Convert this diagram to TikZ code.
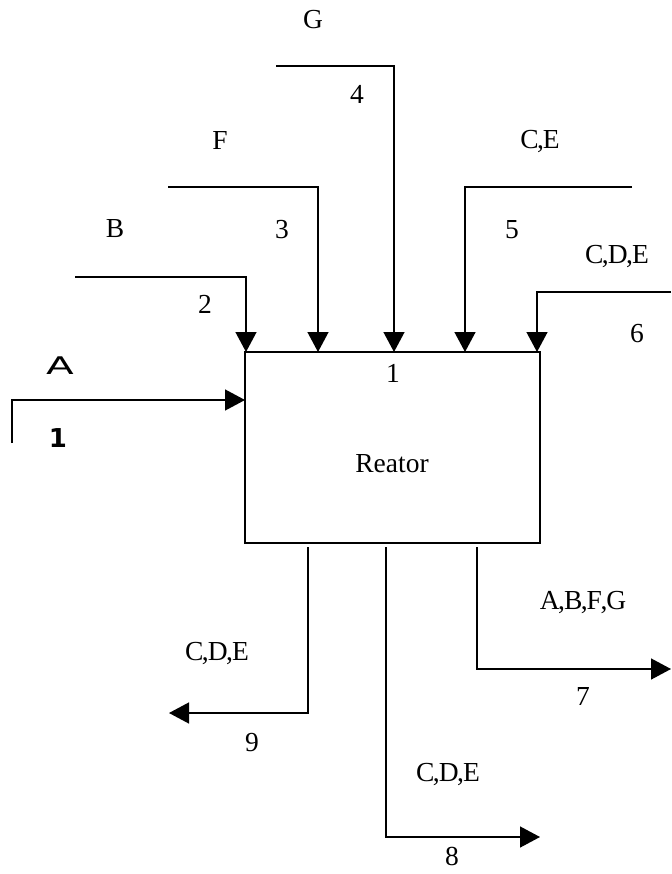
\documentclass[tikz,border=0pt]{standalone}
\usepackage{fontspec}
\setmainfont{Liberation Serif}
\newfontfamily\sansA{DejaVu Sans}
\usetikzlibrary{arrows.meta}
\newcommand{\cm}{\kern-1.5pt,\kern-1pt}
\begin{document}
\begin{tikzpicture}[x=1pt,y=-1pt,
  line/.style={line width=1.4pt},
  arr/.style={line width=1.4pt,-{Triangle[length=20pt,width=21pt]}},
  lbl/.style={font=\fontsize{27.5}{27.5}\selectfont,inner sep=0pt},
  boxstyle/.style={draw,line width=1.4pt,minimum width=295pt,minimum height=191pt,inner sep=0pt}]
\useasboundingbox (0,0) rectangle (671,874);
% reactor
\node[boxstyle] (reactor) at (392.5,447.5) {};
\node[lbl] (rname) at (392,464) {Reator};
\node[lbl] (rin) at (393,373) {1};
% stream 1
\coordinate (s1) at (12,443);
\coordinate (t1) at (245,400);
\draw[arr] (s1) |- (t1);
\node[inner sep=0pt,font=\sansA\fontsize{27}{27}\selectfont,xscale=1.5,yscale=0.9] (lA) at (60,366) {A};
\node[inner sep=0pt,font=\sansA\bfseries\fontsize{26}{26}\selectfont] (l1) at (58,438) {1};
% stream 2
\coordinate (s2) at (75,277);
\coordinate (t2) at (246,352);
\draw[arr] (s2) -| (t2);
\node[lbl] (lB) at (115,229) {B};
\node[lbl] (l2) at (205,304) {2};
% stream 3
\coordinate (s3) at (168,187);
\coordinate (t3) at (318,352);
\draw[arr] (s3) -| (t3);
\node[lbl] (lF) at (220,140) {F};
\node[lbl] (l3) at (282,230) {3};
% stream 4
\coordinate (s4) at (276,66);
\coordinate (t4) at (394,352);
\draw[arr] (s4) -| (t4);
\node[lbl] (lG) at (313,20) {G};
\node[lbl] (l4) at (357,94) {4};
% stream 5
\coordinate (s5) at (632,187);
\coordinate (t5) at (465,352);
\draw[arr] (s5) -| (t5);
\node[lbl] (lCE) at (540,142) {C\cm E};
\node[lbl] (l5) at (512,230) {5};
% stream 6
\coordinate (s6) at (671,292);
\coordinate (t6) at (537,352);
\draw[arr] (s6) -| (t6);
\node[lbl] (lCDE6) at (617,257) {C\cm D\cm E};
\node[lbl] (l6) at (637,334) {6};
% stream 9
\coordinate (s9) at (308,547);
\coordinate (t9) at (169,713);
\draw[arr] (s9) |- (t9);
\node[lbl] (lCDE9) at (217,654) {C\cm D\cm E};
\node[lbl] (l9) at (252,743) {9};
% stream 8
\coordinate (s8) at (386,547);
\coordinate (t8) at (540,837);
\draw[arr] (s8) |- (t8);
\node[lbl] (lCDE8) at (448,775) {C\cm D\cm E};
\node[lbl] (l8) at (452,856) {8};
% stream 7
\coordinate (s7) at (477,547);
\coordinate (t7) at (671,669);
\draw[arr] (s7) |- (t7);
\node[lbl] (lABFG) at (583,603) {A\cm B\cm F\cm G};
\node[lbl] (l7) at (583,696) {7};
\end{tikzpicture}
\end{document}
